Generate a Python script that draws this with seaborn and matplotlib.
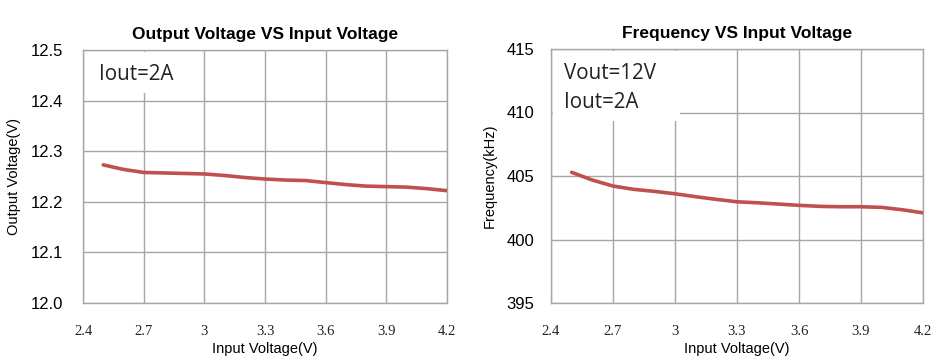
import seaborn as sns
import matplotlib.pyplot as plt
from matplotlib.patches import Rectangle

# Input voltage sweep (V)
vin = [2.5, 2.6, 2.7, 2.8, 2.9, 3.0, 3.1, 3.2, 3.3, 3.4, 3.5, 3.6, 3.7, 3.8, 3.9, 4.0, 4.1, 4.2]

# Output voltage (V) at Iout=2A
vout = [12.273, 12.264, 12.258, 12.257, 12.256, 12.255, 12.252, 12.248, 12.245, 12.243,
        12.242, 12.238, 12.234, 12.231, 12.230, 12.229, 12.226, 12.222]

# Switching frequency (kHz) at Vout=12V, Iout=2A
freq = [405.29, 404.68, 404.21, 403.95, 403.79, 403.60, 403.37, 403.16, 402.97, 402.89,
        402.79, 402.69, 402.61, 402.58, 402.58, 402.53, 402.34, 402.10]

x_ticks = [2.4, 2.7, 3.0, 3.3, 3.6, 3.9, 4.2]
x_ticklabels = ['2.4', '2.7', '3', '3.3', '3.6', '3.9', '4.2']

sns.set_style('white')
plt.rcParams['font.family'] = ['Liberation Sans', 'DejaVu Sans']
plt.rcParams['text.color'] = 'black'
plt.rcParams['axes.labelcolor'] = 'black'
plt.rcParams['xtick.color'] = 'black'
plt.rcParams['ytick.color'] = 'black'

LINE = '#C0504D'
GRID = '#A6A6A6'

fig = plt.figure(figsize=(9.44, 3.6), dpi=100)
ax1 = fig.add_axes([83 / 944, 1 - 303 / 360, 364 / 944, 253 / 360])
ax2 = fig.add_axes([551 / 944, 1 - 303 / 360, 372 / 944, 254 / 360])


def style_axes(ax, yticks, ylabel, title, ypad):
    ax.set_xlim(2.4, 4.2)
    ax.set_ylim(yticks[0], yticks[-1])
    ax.set_xticks(x_ticks)
    ax.set_xticklabels(x_ticklabels, family='Liberation Serif', fontsize=10.5, color='#222222')
    ax.set_yticks(yticks)
    ax.tick_params(axis='y', labelsize=12, pad=ypad, length=0)
    ax.tick_params(axis='x', pad=16, length=0)
    ax.grid(True, color=GRID, linewidth=1)
    for s in ax.spines.values():
        s.set_color(GRID)
        s.set_linewidth(1)
    ax.set_xlabel('Input Voltage(V)', fontsize=10.5, labelpad=3)
    ax.set_ylabel(ylabel, fontsize=10.5, labelpad=7)
    ax.set_title(title, fontsize=12.5, fontweight='bold', pad=8)


sns.lineplot(x=vin, y=vout, ax=ax1, color=LINE, linewidth=2.6, zorder=5)
style_axes(ax1, [12.0, 12.1, 12.2, 12.3, 12.4, 12.5], 'Output Voltage(V)',
           'Output Voltage VS Input Voltage', 14)
ax1.set_yticklabels(['12.0', '12.1', '12.2', '12.3', '12.4', '12.5'])
ax1.add_patch(Rectangle((0.006, 0.83), 0.277, 0.164, transform=ax1.transAxes,
                        facecolor='white', edgecolor='none', zorder=3))
ax1.text(0.043, 0.905, 'Iout=2A', transform=ax1.transAxes, fontsize=14.8,
         family='Open Sans', va='center', ha='left', color='#222222', zorder=6)

sns.lineplot(x=vin, y=freq, ax=ax2, color=LINE, linewidth=2.6, zorder=5)
style_axes(ax2, [395, 400, 405, 410, 415], 'Frequency(kHz)',
           'Frequency VS Input Voltage', 12)
ax2.add_patch(Rectangle((0.006, 0.715), 0.341, 0.279, transform=ax2.transAxes,
                        facecolor='white', edgecolor='none', zorder=3))
ax2.text(0.036, 0.905, 'Vout=12V', transform=ax2.transAxes, fontsize=14.8,
         family='Open Sans', va='center', ha='left', color='#222222', zorder=6)
ax2.text(0.036, 0.79, 'Iout=2A', transform=ax2.transAxes, fontsize=14.8,
         family='Open Sans', va='center', ha='left', color='#222222', zorder=6)

fig.savefig('out.png', dpi=100)
